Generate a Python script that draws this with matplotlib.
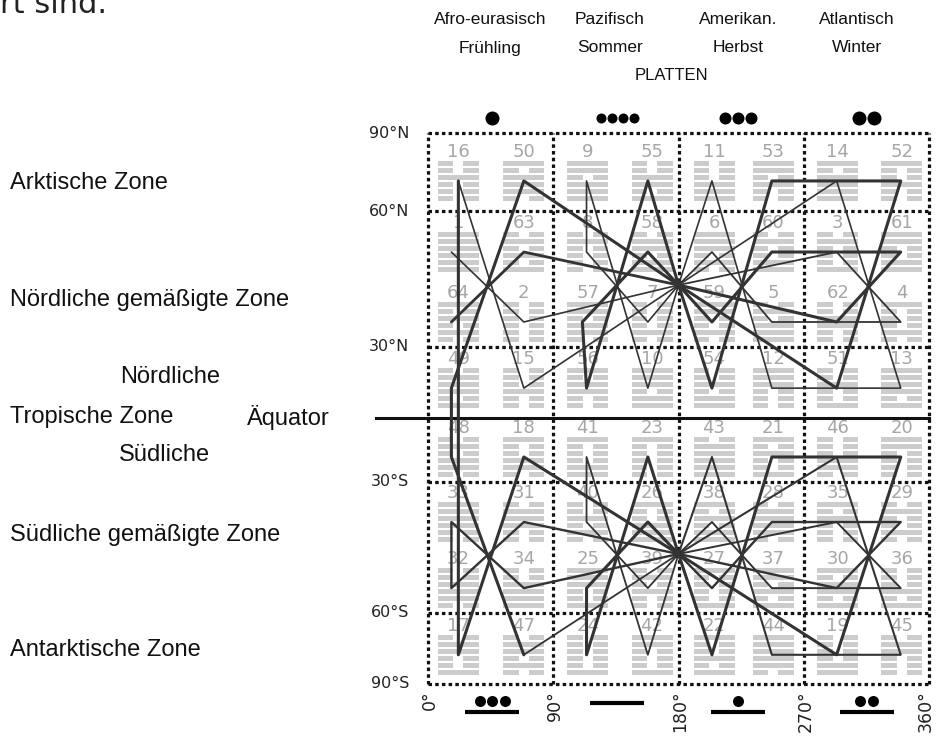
import matplotlib
matplotlib.use("Agg")
import matplotlib.pyplot as plt
from matplotlib.patches import Rectangle
from matplotlib.collections import PatchCollection

W, H = 937, 742

# hexagram numbers, north row first, west to east
GRID = [
    [16, 50, 9, 55, 11, 53, 14, 52],
    [1, 63, 8, 58, 6, 60, 3, 61],
    [64, 2, 57, 7, 59, 5, 62, 4],
    [49, 15, 56, 10, 54, 12, 51, 13],
    [48, 18, 41, 23, 43, 21, 46, 20],
    [33, 31, 40, 26, 38, 28, 35, 29],
    [32, 34, 25, 39, 27, 37, 30, 36],
    [17, 47, 24, 42, 22, 44, 19, 45],
]

# King Wen order: lower + upper trigram
KING_WEN = ("QQ NN ZK KG QK KQ KN NK QX DQ QN NQ LQ QL GN NZ ZD XG DN NX "
            "ZL LG NG ZN ZQ QG ZG XD KK LL GD XZ GQ QZ NL LN LX DL GK KZ "
            "DG ZX QD XQ ND XN KD XK LD XL ZZ GG GX DZ LZ GL XX DD KX DK "
            "DX GZ LK KL").split()
TRIGRAM = {"Q": (1, 1, 1), "D": (1, 1, 0), "L": (1, 0, 1), "Z": (1, 0, 0),
           "X": (0, 1, 1), "K": (0, 1, 0), "G": (0, 0, 1), "N": (0, 0, 0)}

# chart coordinates: longitude 0-360, vertical 0 (90°S) .. 100 (90°N)
HEX_LON = [22, 69, 115, 161, 205.5, 248, 294.4, 340.3]
VERTEX_LON = [17, 69, 114, 158, 204, 247, 293.5, 339.5]
VERTEX_LON_FIX = {16: 22, 17: 22, 57: 111}
ROW_Y = [91.3, 78.4, 65.7, 53.7, 41.2, 29.4, 17.4, 5.3]
HUB = {"N": (180, 72.4), "S": (180, 23.6)}

GRID_Y = [100, 85.8, 61.2, 36.7, 12.9, 0]
EQUATOR_Y = 48.3
LAT_LABELS = ["90°N", "60°N", "30°N", "30°S", "60°S", "90°S"]

# connecting lines (hexagram numbers, N/S = hub) and their weight
PATHS = [
    (["N", 58, 57, 56, 55, "N"], 2.2),
    (["N", 7, 8, 9, 10, "N"], 1.2),
    (["N", 2, 1], 1.2),
    (["N", 63, 64], 2.0),
    (["N", 15, 16], 1.2),
    ([16, 17, 18, "S"], 2.2),
    (["N", 50, 49, 48, 47], 2.2),
    ([47, "S"], 1.3),
    (["N", 11, 12, 13, 14, "N"], 1.2),
    (["N", 54, 53, 52, 51, "N"], 2.2),
    (["N", 6, 5, 4, 3, "N"], 1.3),
    (["N", 59, 60, 61, 62, "N"], 2.2),
    (["S", 22, 21, 20, 19, "S"], 2.2),
    (["S", 43, 44, 45, 46, "S"], 1.5),
    (["S", 38, 37, 36, 35, "S"], 1.4),
    (["S", 27, 28, 29, 30, "S"], 1.7),
    (["S", 34, 33, 32, 31, "S"], 1.7),
    (["S", 39, 40, 41, 42, "S"], 1.3),
    (["S", 26, 25, 24, 23, "S"], 2.2),
]

PLATES = ["Afro-eurasisch", "Pazifisch", "Amerikan.", "Atlantisch"]
SEASONS = ["Frühling", "Sommer", "Herbst", "Winter"]
TOP_DOTS = [1, 4, 3, 2]
BOTTOM_DOTS = [3, 0, 1, 2]
LON_TICKS = [0, 90, 180, 270, 360]

ZONES = [("Arktische Zone", 10, 183), ("Nördliche gemäßigte Zone", 10, 300),
         ("Nördliche", 120, 377), ("Tropische Zone", 10, 417),
         ("Äquator", 247, 417), ("Südliche", 119, 455),
         ("Südliche gemäßigte Zone", 10, 535), ("Antarktische Zone", 10, 650)]

LINE = "#333333"
SANS = ["Liberation Sans", "DejaVu Sans"]

fig = plt.figure(figsize=(W / 100, H / 100), dpi=100)
X0, X1, Y0, Y1 = 427.7, 929.3, 133, 684
ax = fig.add_axes([X0 / W, 1 - Y1 / H, (X1 - X0) / W, (Y1 - Y0) / H])
ax.set_xlim(0, 360)
ax.set_ylim(0, 100)
ax.axis("off")
sx = 360 / (X1 - X0)      # degrees per pixel
sy = 100 / (Y1 - Y0)      # units per pixel


def fpos(px, py):
    return px / W, 1 - py / H


# hexagram symbols and numbers
bars = []
for r, row in enumerate(GRID):
    for c, n in enumerate(row):
        lo, up = KING_WEN[n - 1]
        bits = TRIGRAM[lo] + TRIGRAM[up]
        cx, cy = HEX_LON[c], ROW_Y[r]
        half = 20.5 * sx
        for i in range(6):
            top = cy + (20 - i * 7) * sy
            y = top - 5 * sy
            if bits[5 - i]:
                bars.append(Rectangle((cx - half, y), 2 * half, 5 * sy))
            else:
                gap = 5 * sx
                bars.append(Rectangle((cx - half, y), half - gap, 5 * sy))
                bars.append(Rectangle((cx + gap, y), half - gap, 5 * sy))
        ax.text(cx, cy + 29 * sy, str(n), ha="center", va="center",
                fontsize=13, color="#a6a6a6", zorder=2)
ax.add_collection(PatchCollection(bars, facecolor="#cccccc",
                                  edgecolor="none", zorder=1))


def vertex(key):
    if key in HUB:
        return HUB[key]
    for r, row in enumerate(GRID):
        if key in row:
            c = row.index(key)
            return VERTEX_LON_FIX.get(key, VERTEX_LON[c]), ROW_Y[r]


for keys, lw in PATHS:
    pts = [vertex(k) for k in keys]
    ax.plot([p[0] for p in pts], [p[1] for p in pts], color=LINE, lw=lw,
            solid_joinstyle="round", solid_capstyle="round", zorder=4)

# grid
dots = (0, (1.1, 1.0))
for lon in LON_TICKS:
    ax.plot([lon, lon], [0, 100], color="#111111", lw=2.3, ls=dots,
            dash_capstyle="butt", zorder=3, clip_on=False)
for gy in GRID_Y:
    ax.plot([0, 360], [gy, gy], color="#111111", lw=2.3, ls=dots,
            dash_capstyle="butt", zorder=3, clip_on=False)
ax.plot([(376 - X0) * sx, 360], [EQUATOR_Y, EQUATOR_Y], color="#111111",
        lw=2.2, zorder=3, clip_on=False)

for lab, gy in zip(LAT_LABELS, GRID_Y):
    ax.text((409 - X0) * sx, gy, lab, ha="right", va="center", fontsize=11.5,
            color="#222222", clip_on=False)

# longitude labels, rotated
for lon in LON_TICKS:
    ax.text(min(lon + 1.5, 357.5), -1.2, f"{lon}°", rotation=90,
            ha="center", va="top", fontsize=12.5, color="#222222",
            clip_on=False)

# plate dots above and symbols below
top_size = {1: 14, 2: 14, 3: 12, 4: 10}
top_gap = {1: 0, 2: 15, 3: 13, 4: 11}
centers = [46.5, 136, 222.5, 315]
for k, (nt, nb) in enumerate(zip(TOP_DOTS, BOTTOM_DOTS)):
    d, g = top_size[nt], top_gap[nt]
    xs = [centers[k] + (i - (nt - 1) / 2) * g * sx for i in range(nt)]
    ax.scatter(xs, [(Y1 - 118) * sy] * nt, s=(d * 0.72) ** 2, color="black",
               linewidths=0, clip_on=False, zorder=5)
    if nb:
        xs = [centers[k] + (i - (nb - 1) / 2) * 12.5 * sx for i in range(nb)]
        ax.scatter(xs, [(Y1 - 701) * sy] * nb, s=(11 * 0.72) ** 2,
                   color="black", linewidths=0, clip_on=False, zorder=5)
        by = (Y1 - 712) * sy
    else:
        by = (Y1 - 703) * sy
    ax.plot([centers[k] - 27 * sx, centers[k] + 27 * sx], [by, by],
            color="black", lw=3.0, solid_capstyle="butt", clip_on=False)

# header
for name, season, px in zip(PLATES, SEASONS, [490, 610, 738, 857]):
    fig.text(*fpos(px, 20), name, ha="center", va="center", fontsize=12.5,
             family=SANS, color="#111111")
    fig.text(*fpos(px, 48), season, ha="center", va="center", fontsize=12.5,
             family=SANS, color="#111111")
fig.text(*fpos(671, 75), "PLATTEN", ha="center", va="center", fontsize=12,
         family=SANS, color="#111111")

for text, px, py in ZONES:
    fig.text(*fpos(px, py), text, ha="left", va="center", fontsize=17,
             family=SANS, color="#111111")

fig.text(*fpos(0, 13), "rt sind.", ha="left", va="baseline", fontsize=22,
         color="#222222")

fig.savefig("out.png", dpi=100)
